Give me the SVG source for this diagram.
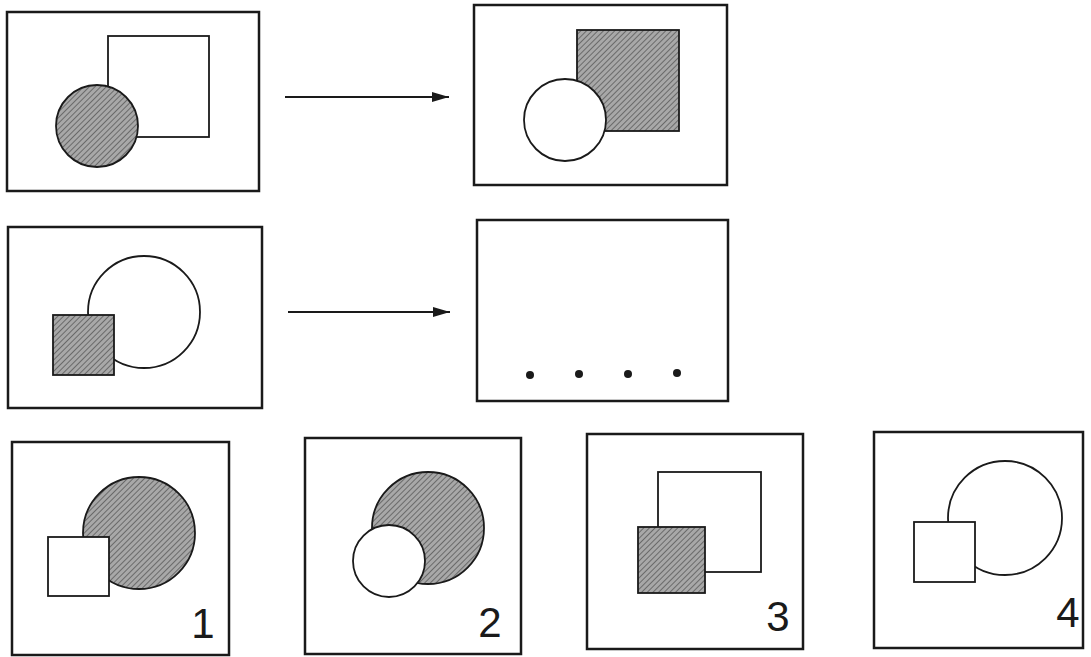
<svg xmlns="http://www.w3.org/2000/svg" width="1091" height="657" viewBox="0 0 1091 657">
<style>
.frame{fill:none;stroke:#1a1a1a;stroke-width:2.5}
.sh{stroke:#1a1a1a;stroke-width:1.8}
.w{fill:#fff}
.g{fill:url(#hatch)}
.o{fill:none}
.lbl{font-family:"Liberation Sans",Arial,sans-serif;font-size:42px;fill:#1a1a1a;text-anchor:middle}
.conn{stroke:#1a1a1a;stroke-width:2.2;fill:none}
</style>
<defs>
<pattern id="hatch" width="4" height="4" patternUnits="userSpaceOnUse" patternTransform="rotate(45)">
<rect width="4" height="4" fill="#a8a8a8"/>
<line x1="0" y1="0" x2="0" y2="4" stroke="#5a5a5a" stroke-width="1.6"/>
</pattern>
<marker id="arr" viewBox="0 0 17 10" refX="17" refY="5" markerWidth="17" markerHeight="10" markerUnits="userSpaceOnUse" orient="auto">
<path d="M0,0 L17,5 L0,10 Z" fill="#1a1a1a"/>
</marker>
</defs>
<rect width="1091" height="657" fill="#fff"/>

<g id="panel-a">
<rect class="frame" x="7" y="12" width="252" height="179"/>
<rect class="sh w" x="108" y="36" width="101" height="101"/>
<circle class="sh g" cx="97" cy="126" r="41"/>
</g>

<g id="panel-b">
<rect class="frame" x="474" y="5" width="253" height="180"/>
<rect class="sh g" x="577" y="30" width="102" height="101"/>
<circle class="sh w" cx="565" cy="120" r="41"/>
</g>

<g id="panel-c">
<rect class="frame" x="8" y="227" width="254" height="181"/>
<circle class="sh w" cx="144" cy="312" r="56"/>
<rect class="sh g" x="53" y="315" width="61" height="60"/>
</g>

<g id="panel-d">
<rect class="frame" x="477" y="220" width="251" height="181"/>
<circle cx="530" cy="375" r="4" fill="#1a1a1a"/>
<circle cx="579" cy="374" r="4" fill="#1a1a1a"/>
<circle cx="628" cy="374" r="4" fill="#1a1a1a"/>
<circle cx="677" cy="373" r="4" fill="#1a1a1a"/>
</g>

<g id="option-1">
<rect class="frame" x="12" y="442" width="217" height="213"/>
<circle class="sh g" cx="139" cy="533" r="56"/>
<rect class="sh w" x="48" y="537" width="61" height="59"/>
<text class="lbl" x="203" y="638">1</text>
</g>

<g id="option-2">
<rect class="frame" x="305" y="438" width="216" height="216"/>
<circle class="sh g" cx="428" cy="528" r="56"/>
<circle class="sh w" cx="389" cy="561" r="36"/>
<text class="lbl" x="490" y="637">2</text>
</g>

<g id="option-3">
<rect class="frame" x="587" y="434" width="216" height="215"/>
<rect class="sh w" x="658" y="472" width="103" height="100"/>
<rect class="sh g" x="638" y="527" width="67" height="66"/>
<text class="lbl" x="778" y="631">3</text>
</g>

<g id="option-4">
<rect class="frame" x="874" y="432" width="209" height="216"/>
<circle class="sh w" cx="1005" cy="518" r="57"/>
<rect class="sh w" x="914" y="522" width="61" height="60"/>
<text class="lbl" x="1068" y="627">4</text>
</g>

<g id="connectors">
<line class="conn" x1="285" y1="97" x2="449" y2="97" marker-end="url(#arr)"/>
<line class="conn" x1="288" y1="312" x2="450" y2="312" marker-end="url(#arr)"/>
</g>
</svg>
